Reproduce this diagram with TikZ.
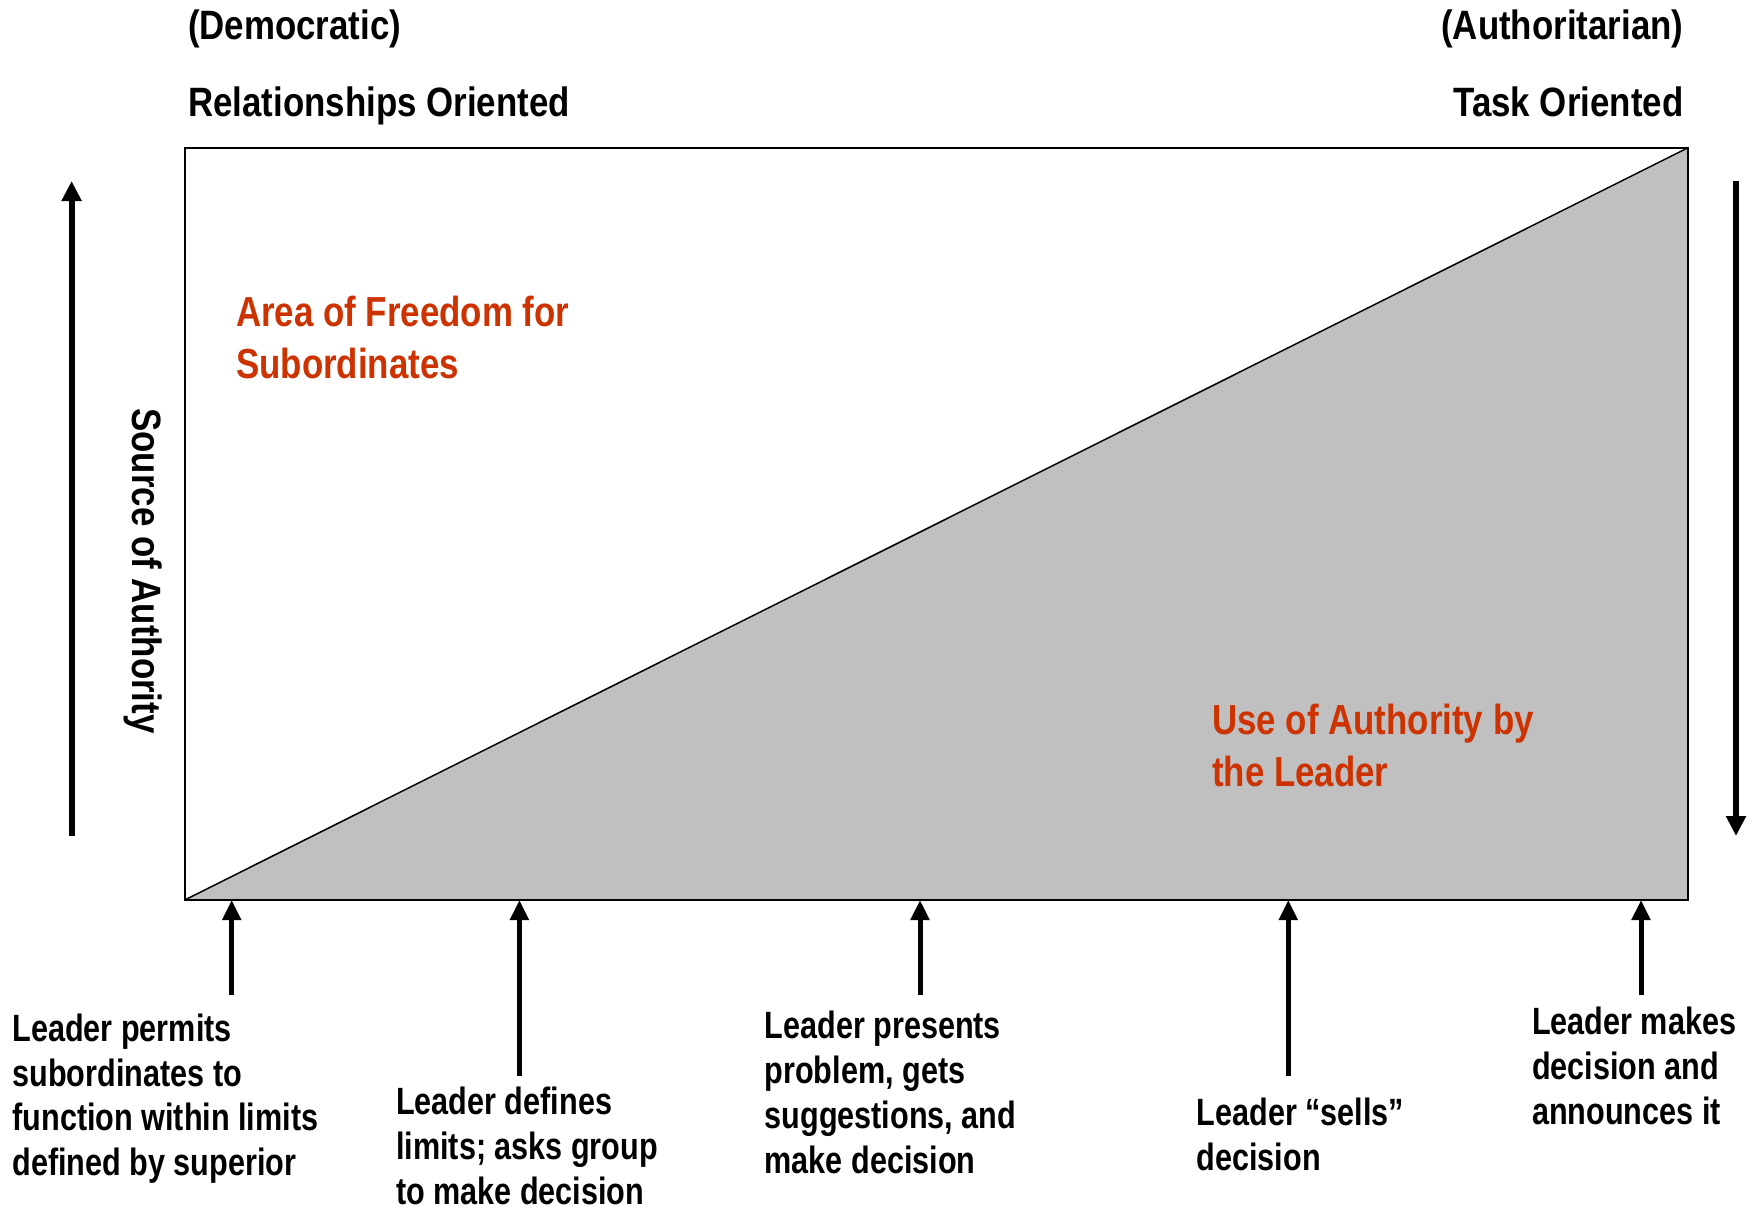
\documentclass[tikz,border=0pt]{standalone}
\usepackage{fontspec}
\setmainfont{Liberation Sans}[FakeStretch=0.85]
\newfontfamily\narrowfont{Liberation Sans}[FakeStretch=0.805]
\newfontfamily\areafont{Liberation Sans}[FakeStretch=0.83]
\usetikzlibrary{arrows.meta}
\definecolor{boxgray}{RGB}{192,192,192}
\definecolor{accent}{RGB}{204,51,0}
\begin{document}
\begin{tikzpicture}[x=1pt,y=-1pt,
  lbl/.style={inner sep=0pt,align=left,font=\narrowfont\fontsize{38}{44.8}\selectfont\bfseries},
  head/.style={inner sep=0pt,font=\fontsize{41}{48}\selectfont\bfseries},
  area/.style={inner sep=0pt,align=left,text=accent,font=\areafont\fontsize{42}{51.5}\selectfont\bfseries},
  bigarrow/.style={line width=6pt,-{Triangle[length=20pt,width=19pt]}},
  tickarrow/.style={line width=5pt,-{Triangle[length=20pt,width=18pt]}}]
\useasboundingbox (0,0) rectangle (1755,1205);
\fill[white] (0,0) rectangle (1755,1205);
% box corners
\coordinate (BL) at (184.7,900);
\coordinate (TL) at (184.7,147.7);
\coordinate (TR) at (1688,147.7);
\coordinate (BR) at (1688,900);
\fill[boxgray] (BL) -- (TR) -- (BR) -- cycle;
\draw[line width=2pt] (BL) -- (TL) -- (TR) -- (BR) -- cycle;
\draw[line width=1.5pt] (BL) -- (TR);
% heading labels
\node[head,anchor=base west] (dem) at (188,39) {(Democratic)};
\node[head,anchor=base west] (rel) at (188,116.4) {Relationships Oriented};
\node[head,anchor=base east] (aut) at (1683.5,39) {(Authoritarian)};
\node[head,anchor=base east] (task) at (1683.5,116.4) {Task Oriented};
% side arrows
\coordinate (la1) at (71.6,836);
\coordinate (la2) at (71.6,181);
\draw[bigarrow] (la1) -- (la2);
\coordinate (ra1) at (1736,181);
\coordinate (ra2) at (1736,836);
\draw[bigarrow] (ra1) -- (ra2);
\node[head,rotate=-90] (src) at (143,571) {Source of Authority};
% area labels
\node[area,anchor=north west] (free) at (236,296) {Area of Freedom for\\Subordinates};
\node[area,anchor=north west] (use) at (1212,704) {Use of Authority by\\the Leader};
% bottom arrows
\coordinate (t1) at (231.7,900); \coordinate (s1) at (231.7,995);
\coordinate (t2) at (519.4,900); \coordinate (s2) at (519.4,1075.6);
\coordinate (t3) at (920,900);   \coordinate (s3) at (920,995);
\coordinate (t4) at (1288.3,900);\coordinate (s4) at (1288.3,1075.6);
\coordinate (t5) at (1641,900);  \coordinate (s5) at (1641,995);
\foreach \i in {1,...,5} {\draw[tickarrow] (s\i) -- (t\i);}
% bottom labels
\node[lbl,anchor=north west] (b1) at (12.3,1013.5) {Leader permits\\subordinates to\\function within limits\\defined by superior};
\node[lbl,anchor=north west] (b2) at (396,1087) {Leader defines\\limits; asks group\\to make decision};
\node[lbl,anchor=north west] (b3) at (764.5,1011) {Leader presents\\problem, gets\\suggestions, and\\make decision};
\node[lbl,anchor=north west] (b4) at (1196.5,1097.5) {Leader “sells”\\decision};
\node[lbl,anchor=north west] (b5) at (1532,1007) {Leader makes\\decision and\\announces it};
\end{tikzpicture}
\end{document}
